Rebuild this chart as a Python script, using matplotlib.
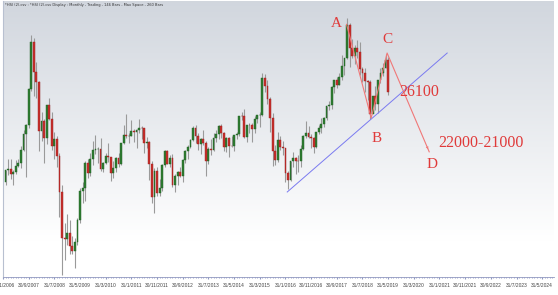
import numpy as np
import matplotlib
matplotlib.use('Agg')
import matplotlib.pyplot as plt

# monthly HSI bars, Dec 2006 .. May 2019 (month index: Jan 2006 = 0)
start_month = 11
opens = [18960,
         19965, 20106, 19651, 19801, 20319, 20635, 21773, 23185, 23984, 27142, 31352, 28643,
         27813, 23456, 24332, 22849, 25755, 24533, 22102, 22731, 21262, 18016, 13969, 13888,
         14387, 13278, 12812, 13576, 15521, 18171, 18379, 20573, 19724, 20955, 21753, 21822,
         21873, 20122, 20609, 21239, 21108, 19765, 20129, 21030, 20537, 22358, 23096, 23008,
         23035, 23447, 23338, 23528, 23720, 23684, 22398, 22440, 20535, 17592, 19864, 17989,
         18434, 20390, 21680, 20556, 21094, 18630, 19441, 19796, 19482, 20840, 21642, 22030,
         22657, 23729, 23020, 22300, 22737, 22392, 20803, 21883, 21731, 22860, 23206, 23881,
         23306, 22035, 22837, 22151, 22134, 23082, 23191, 24757, 24742, 22933, 23998, 23987,
         23605, 24507, 24823, 24901, 28133, 27424, 26250, 24636, 21671, 20846, 22640, 21996,
         21914, 19683, 19112, 20777, 21067, 20815, 20794, 21891, 22977, 23297, 22935, 22790,
         22001, 23361, 23741, 24112, 24615, 25661, 25765, 27324, 27970, 27554, 28246, 29177,
         29919, 32887, 30845, 30093, 30808, 30469, 28955, 28583, 27889, 27789, 24980, 26507,
         25846, 27942, 28633, 29051, 29699]
highs = [20001,
         20971, 20971, 19996, 20834, 20960, 22085, 23551, 24100, 27254, 31958, 31700, 29600,
         27853, 25137, 24500, 25755, 26387, 25100, 23369, 23000, 21500, 18700, 15300, 16100,
         15600, 14100, 14000, 15700, 18400, 18900, 20800, 21000, 21500, 22600, 23100, 22000,
         22800, 20700, 21500, 22400, 21100, 20800, 21100, 21500, 22400, 24000, 24988, 23300,
         24400, 23600, 23600, 24468, 23900, 23700, 22900, 22600, 20800, 20200, 20300, 19200,
         20500, 21760, 21800, 21300, 21400, 19600, 19900, 20300, 21000, 21800, 22200, 22700,
         23900, 23944, 23300, 22800, 23500, 22600, 22000, 22700, 23300, 23500, 24000, 24100,
         23400, 22900, 22900, 23000, 23100, 23400, 24800, 25100, 25363, 23600, 24200, 24200,
         24800, 24900, 25100, 28588, 28500, 28000, 26500, 25000, 22200, 23400, 23000, 22600,
         21900, 19900, 20800, 21600, 21100, 21300, 22200, 23100, 24364, 23900, 23200, 22900,
         23400, 24000, 24600, 24700, 25700, 26090, 27400, 28000, 28200, 28600, 30200, 29900,
         33484, 33000, 31600, 31100, 31500, 31300, 29100, 29000, 28000, 28000, 26500, 27400,
         28000, 29000, 29500, 30280, 30000]
lows = [18700,
        19583, 19207, 18659, 19601, 20222, 20179, 21671, 19386, 23700, 27000, 26574, 26400,
        21709, 22600, 20572, 22300, 24400, 21773, 21000, 20300, 15800, 10676, 12050, 13300,
        12500, 12500, 11344, 13300, 15300, 17100, 17200, 19300, 19500, 20400, 21400, 20600,
        19900, 19800, 20500, 20700, 18971, 19300, 19800, 20300, 20400, 22300, 22800, 22400,
        23000, 22500, 21900, 23300, 22700, 21500, 21900, 19100, 17100, 16170, 17700, 17700,
        18100, 20300, 20500, 20300, 18500, 18056, 18700, 19400, 18900, 20600, 21000, 21900,
        22600, 22400, 21800, 21400, 22200, 19426, 20500, 21300, 21700, 22500, 22700, 22800,
        21700, 21600, 21100, 22000, 21700, 22700, 23000, 24400, 22800, 22500, 23300, 22500,
        23300, 24200, 23800, 24800, 26900, 25800, 23400, 20368, 20400, 20700, 21800, 21300,
        18900, 18279, 19000, 20300, 19600, 19800, 20300, 21800, 22800, 22800, 21900, 21488,
        21900, 23200, 23300, 23800, 24400, 25300, 25400, 26800, 27300, 27500, 28000, 28400,
        29800, 29129, 29900, 29400, 29900, 28400, 27800, 26900, 26200, 24541, 25000, 25300,
        25000, 27700, 28300, 29000, 26600]
closes = opens[1:] + [26901]

tick_months = list(range(10, 221, 10))
tick_labels = ['30/11/2006', '30/9/2007', '31/7/2008', '31/5/2009', '31/3/2010', '31/1/2011',
               '30/11/2011', '30/9/2012', '31/7/2013', '31/5/2014', '31/3/2015', '31/1/2016',
               '30/11/2016', '30/9/2017', '31/7/2018', '31/5/2019', '31/3/2020', '31/1/2021',
               '30/11/2021', '30/9/2022', '31/7/2023', '31/5/2024']

# wave drawing (month, price)
wave_m = [143.8, 153.4, 159.6, 176.0]
wave_p = [32900, 24600, 30360, 21600]
trend_m = [120.7, 183.0]
trend_p = [18040, 30360]
labels = [('A', 139.7, 32950), ('B', 155.4, 22740), ('C', 159.6, 31600), ('D', 177.1, 20520)]
targets = [('26100', 164.3, 26900), ('22000-21000', 179.5, 22380)]

o = np.array(opens); h = np.array(highs); l = np.array(lows); c = np.array(closes)
x = np.arange(len(o)) + start_month

fig = plt.figure(figsize=(5.58, 2.95), dpi=100)
fig.patch.set_facecolor('white')
ax = fig.add_axes([3 / 558, 18 / 295, 551 / 558, 276 / 295])
ax.set_xlim(10.22, 224.6)
ax.set_ylim(10504, 34972)

# background gradient
grad = np.linspace(0, 1, 256).reshape(-1, 1)
grad = np.clip(grad * 1.15, 0, 1)
top = np.array([0.82, 0.84, 0.87]); bot = np.array([1.0, 1.0, 1.0])
img = top + (bot - top) * grad[:, :, None]
ax.imshow(img, extent=[0, 1, 0, 1], transform=ax.transAxes, aspect='auto', zorder=0)

ax.vlines(x, l, h, color='#9a9a9a', lw=0.8, zorder=2)
up = c >= o
ax.bar(x[up], (c - o)[up], bottom=o[up], width=0.72, color='#2f7d32', edgecolor='#1f5f22', lw=0.3, zorder=3)
ax.bar(x[~up], (o - c)[~up], bottom=c[~up], width=0.72, color='#c8302c', edgecolor='#9a2020', lw=0.3, zorder=3)

ax.plot(trend_m, trend_p, color='#7a7af0', lw=0.7, zorder=4)
ax.plot(wave_m, wave_p, color='#f07878', lw=0.8, zorder=4)
ax.annotate('', xy=(wave_m[-1], wave_p[-1]), xytext=(wave_m[-2] + 0.3 * (wave_m[-1] - wave_m[-2]), wave_p[-2] + 0.3 * (wave_p[-1] - wave_p[-2])),
            arrowprops=dict(arrowstyle='-|>', color='#f07878', lw=0.0, mutation_scale=5), zorder=4)

for t, mx, py in labels:
    ax.text(mx, py, t, color='#e03a3a', fontsize=11, family='Liberation Serif', ha='center', va='center', zorder=5)
for t, mx, py in targets:
    ax.text(mx, py, t, color='#e03a3a', fontsize=11.5, family='Liberation Serif', ha='left', va='center', zorder=5)

ax.text(0.003, 0.985, '*HSI (2).csv : *HSI (2).csv Display : Monthly - Trading - 146 Bars - Max Space - 260 Bars',
        transform=ax.transAxes, fontsize=2.6, color='#333333', ha='left', va='center')

ax.set_xticks(tick_months)
ax.set_xticklabels(tick_labels, fontsize=3.5, color='#444444', family='Liberation Sans')
ax.set_xticks(np.arange(11, 225), minor=True)
ax.tick_params(axis='x', which='major', length=1.5, color='#9098c0', pad=3)
ax.tick_params(axis='x', which='minor', length=1, color='#9098c0')
ax.set_yticks([])
for s in ['top', 'right']:
    ax.spines[s].set_visible(False)
ax.spines['bottom'].set_color('#9098c0')
ax.spines['bottom'].set_linewidth(0.6)
ax.spines['left'].set_color('#b8c0d0')
ax.spines['left'].set_linewidth(0.8)

fig.savefig('out.png', dpi=100)
